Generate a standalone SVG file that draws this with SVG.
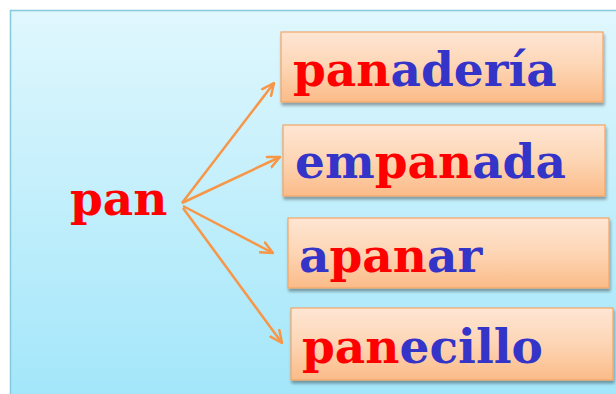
<svg xmlns="http://www.w3.org/2000/svg" width="616" height="394" viewBox="0 0 616 394">
<defs>
<linearGradient id="bg" x1="0" y1="0" x2="0" y2="1">
<stop offset="0" stop-color="#e0f7fd"/>
<stop offset="1" stop-color="#a2e6fa"/>
</linearGradient>
<linearGradient id="box" x1="0" y1="0" x2="0" y2="1">
<stop offset="0" stop-color="#fee6d4"/>
<stop offset="0.5" stop-color="#fdd5b4"/>
<stop offset="1" stop-color="#fbbb88"/>
</linearGradient>
<filter id="sh" x="-5%" y="-10%" width="110%" height="130%">
<feGaussianBlur in="SourceAlpha" stdDeviation="1.5"/>
<feOffset dx="1" dy="2.5" result="b"/>
<feComponentTransfer><feFuncA type="linear" slope="0.35"/></feComponentTransfer>
<feMerge><feMergeNode/><feMergeNode in="SourceGraphic"/></feMerge>
</filter>
<marker id="ah" viewBox="0 0 14 14" refX="13" refY="7" markerWidth="14" markerHeight="14" markerUnits="userSpaceOnUse" orient="auto">
<path d="M1,1.5 L13,7 L1,12.5" fill="none" stroke="#f79646" stroke-width="2.5" stroke-linecap="round" stroke-linejoin="round"/>
</marker>
</defs>
<style>
.bx{fill:url(#box);stroke:#f4a566;stroke-width:1.2;filter:url(#sh)}
.t{font-family:"DejaVu Serif","Liberation Serif",serif;font-weight:bold;font-size:47px}
.r{fill:#ff0000}
.b{fill:#3434c8}
.c{fill:none;stroke:#f79646;stroke-width:2.5;marker-end:url(#ah)}
</style>
<rect x="10.5" y="10.5" width="612" height="392" fill="url(#bg)" stroke="#84c9dc" stroke-width="1.5"/>
<g id="connectors">
<line class="c" x1="182" y1="203" x2="274" y2="83"/>
<line class="c" x1="182" y1="203" x2="280" y2="157"/>
<line class="c" x1="183" y1="206" x2="273" y2="253"/>
<line class="c" x1="183" y1="208" x2="282" y2="343"/>
</g>
<g id="pan">
<text class="t r" x="70" y="215">pan</text>
</g>
<g id="panaderia">
<rect class="bx" x="281" y="32" width="322" height="70"/>
<text class="t" x="293" y="86"><tspan class="r">pan</tspan><tspan class="b">adería</tspan></text>
</g>
<g id="empanada">
<rect class="bx" x="283" y="125" width="322" height="71"/>
<text class="t" x="295" y="178"><tspan class="b">em</tspan><tspan class="r">pan</tspan><tspan class="b">ada</tspan></text>
</g>
<g id="apanar">
<rect class="bx" x="288" y="218" width="321" height="70"/>
<text class="t" x="299" y="272"><tspan class="b">a</tspan><tspan class="r">pan</tspan><tspan class="b">ar</tspan></text>
</g>
<g id="panecillo">
<rect class="bx" x="291" y="308" width="322" height="72"/>
<text class="t" x="302" y="363"><tspan class="r">pan</tspan><tspan class="b">ecillo</tspan></text>
</g>
</svg>
